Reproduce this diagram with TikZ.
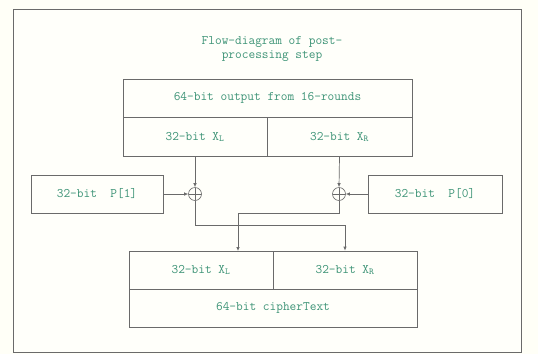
\documentclass[tikz,border=0pt]{standalone}
\usetikzlibrary{arrows.meta}
\definecolor{labelgreen}{HTML}{3E9477}
\definecolor{linegray}{HTML}{6A6A6A}

\begin{document}
\begin{tikzpicture}[x=1pt,y=-1pt,
  font=\ttfamily\fontsize{13}{14}\selectfont,
  box/.style={draw=linegray,line width=.7pt,text=labelgreen,minimum height=38pt,inner sep=0pt},
  xorop/.style={draw=linegray,line width=.6pt,circle,minimum size=13pt,inner sep=0pt,
    path picture={\draw[linegray,line width=.6pt] (path picture bounding box.north)--(path picture bounding box.south)
      (path picture bounding box.west)--(path picture bounding box.east);}},
  arr/.style={-{Latex[length=4pt,width=3.5pt]},draw=linegray,line width=.7pt}]
\useasboundingbox[fill=white!97!yellow] (0,0) rectangle (538,354);
\draw[draw=linegray,fill=white!98!yellow,line width=.8pt] (13,9) rectangle (521,352);
\node[text=labelgreen,align=center] (title) at (272,49) {Flow-diagram of post-\\processing step};
% input halves
\node[box,minimum width=289pt] (out16) at (267.5,98) {64-bit output from 16-rounds};
\node[box,minimum width=144pt,minimum height=39pt] (xlt) at (195,137) {32-bit X\textsubscript{L}};
\node[box,minimum width=145pt,minimum height=39pt] (xrt) at (339.5,137) {32-bit X\textsubscript{R}};
% subkeys and xor
\node[box,minimum width=132pt] (p1) at (97,194) {32-bit~~P[1]};
\node[box,minimum width=134pt] (p0) at (435,194) {32-bit~~P[0]};
\node[xorop] (xorl) at (195,194) {};
\node[xorop] (xorr) at (339,194) {};
% output halves
\node[box,minimum width=144pt] (xlb) at (201,270) {32-bit X\textsubscript{L}};
\node[box,minimum width=144pt] (xrb) at (345,270) {32-bit X\textsubscript{R}};
\node[box,minimum width=288pt] (ct) at (273,308) {64-bit cipherText};
\coordinate (inl) at (238,251);
\draw[arr] (xlt.south)--(xorl.north);
\draw[arr] (xrt.south)--(xorr.north);
\draw[arr] (p1.east)--(xorl.west);
\draw[arr] (p0.west)--(xorr.east);
\draw[arr] (xorl.south) |- ([yshift=25pt]xrb.north)--(xrb.north);
\draw[arr] (xorr.south) |- ([yshift=38pt]inl)--(inl);
\end{tikzpicture}
\end{document}
